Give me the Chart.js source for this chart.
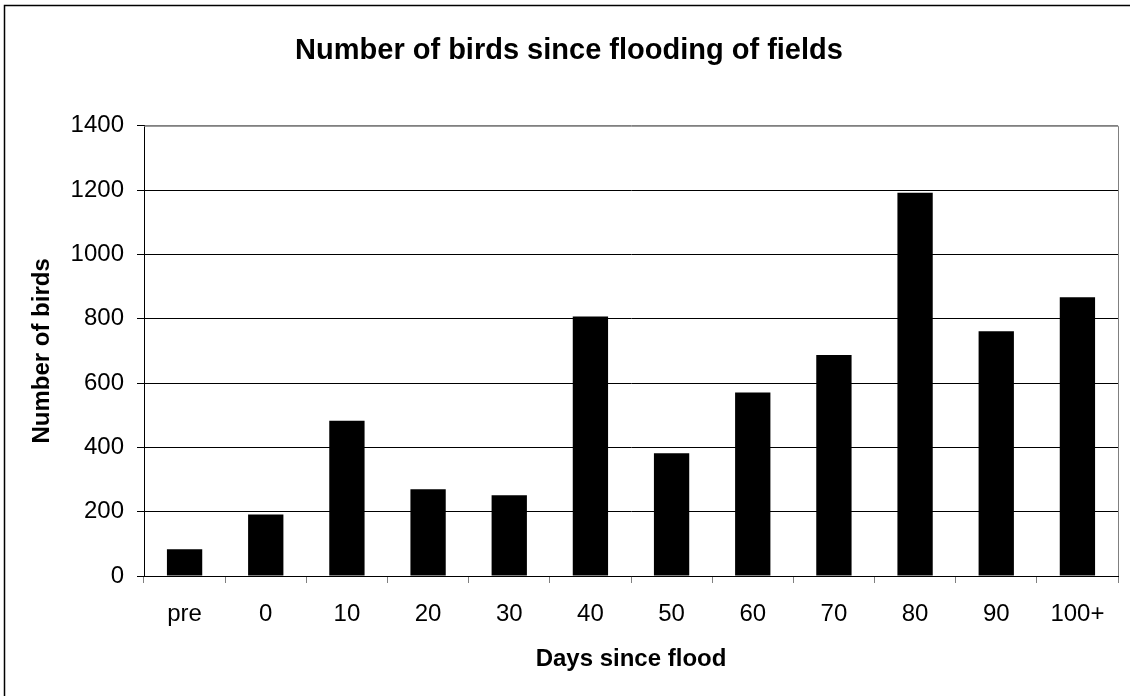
<!DOCTYPE html>
<html>
<head>
<meta charset="utf-8">
<script src="https://cdn.jsdelivr.net/npm/chart.js@4.4.1/dist/chart.umd.min.js"></script>
<style>
  html, body { margin: 0; padding: 0; background: #fff; }
  #wrap { width: 1130px; height: 696px; }
</style>
</head>
<body>
<div id="wrap"><canvas id="birdsChart" width="1130" height="696"></canvas></div>
<script>
// data
const days = ['pre', '0', '10', '20', '30', '40', '50', '60', '70', '80', '90', '100+'];
const birds = [83, 191, 483, 270, 251, 807, 382, 571, 687, 1192, 761, 867];
const yTicks = [0, 200, 400, 600, 800, 1000, 1200, 1400];

const FONT = 'Arial, "Liberation Sans", sans-serif';

// outer frame + grey top/right edge of the plot area
const frame = {
    id: 'frame',
    afterDraw(chart) {
        const c = chart.ctx;
        const a = chart.chartArea;
        c.save();
        c.lineWidth = 1;
        c.strokeStyle = '#808080';
        c.beginPath();
        c.moveTo(a.left, a.top + 0.5);
        c.lineTo(a.right + 0.5, a.top + 0.5);
        c.lineTo(a.right + 0.5, a.bottom);
        c.stroke();
        c.strokeStyle = '#000';
        c.lineWidth = 1.5;
        c.beginPath();
        c.moveTo(4.5, 696);
        c.lineTo(4.5, 5.5);
        c.lineTo(1130, 5.5);
        c.stroke();
        c.restore();
    }
};

const ctx = document.getElementById('birdsChart').getContext('2d');

new Chart(ctx, {
    type: 'bar',
    data: {
        labels: days,
        datasets: [{
            label: 'Number of birds',
            data: birds,
            backgroundColor: '#000',
            borderWidth: 0,
            barPercentage: 0.435,
            categoryPercentage: 1
        }]
    },
    options: {
        responsive: false,
        animation: false,
        layout: { padding: { left: 20, right: 12, top: 0, bottom: 0 } },
        plugins: {
            legend: { display: false },
            tooltip: { enabled: false },
            title: {
                display: true,
                text: 'Number of birds since flooding of fields',
                color: '#000',
                font: { family: FONT, size: 29, weight: 'bold' },
                padding: { top: 34, bottom: 57 }
            }
        },
        scales: {
            x: {
                afterFit(scale) { scale.height = 120; },
                grid: {
                    offset: true,
                    drawOnChartArea: false,
                    drawTicks: true,
                    tickLength: 7,
                    color: '#808080'
                },
                border: { display: true, color: '#000', width: 1 },
                ticks: {
                    color: '#000',
                    padding: 17,
                    font: { family: FONT, size: 24 },
                    maxRotation: 0
                },
                title: {
                    display: true,
                    text: 'Days since flood',
                    color: '#000',
                    font: { family: FONT, size: 24, weight: 'bold' },
                    padding: { top: 0, bottom: 22 }
                }
            },
            y: {
                min: 0,
                max: 1400,
                afterFit(scale) { scale.width = 124; },
                afterBuildTicks(scale) { scale.ticks = yTicks.map(v => ({ value: v })); },
                grid: {
                    color: c => (c.tick && c.tick.value === 1400 ? '#808080' : '#000'),
                    tickColor: '#000',
                    tickLength: 7,
                    lineWidth: 1
                },
                border: { display: true, color: '#000', width: 1 },
                ticks: {
                    color: '#000',
                    padding: 13,
                    font: { family: FONT, size: 24 },
                    callback: v => String(v)
                },
                title: {
                    display: true,
                    text: 'Number of birds',
                    color: '#000',
                    font: { family: FONT, size: 24, weight: 'bold' },
                    padding: { top: 8, bottom: 0 }
                }
            }
        }
    },
    plugins: [frame]
});
</script>
</body>
</html>
